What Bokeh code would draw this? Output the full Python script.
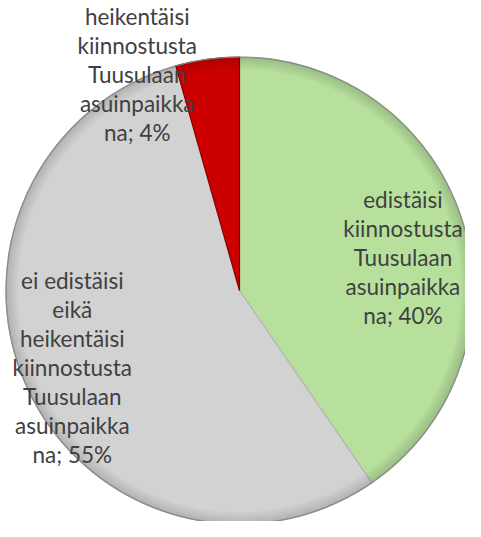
import numpy as np
from bokeh.plotting import figure
from bokeh.models import Range1d, ColumnDataSource
from bokeh.core.properties import value
from bokeh.embed import file_html
from bokeh.resources import INLINE

# ---- data ----
categories = [
    "edistäisi kiinnostusta Tuusulaan asuinpaikkana",
    "ei edistäisi eikä heikentäisi kiinnostusta Tuusulaan asuinpaikkana",
    "heikentäisi kiinnostusta Tuusulaan asuinpaikkana",
]
shares = [40.4, 55.2, 4.4]
label_lines = [
    ["edistäisi", "kiinnostusta", "Tuusulaan", "asuinpaikka"],
    ["ei edistäisi", "eikä", "heikentäisi", "kiinnostusta", "Tuusulaan", "asuinpaikka"],
    ["heikentäisi", "kiinnostusta", "Tuusulaan", "asuinpaikka"],
]

# ---- style / layout ----
colors = ["#b7e09d", "#d2d2d2", "#cc0000"]
edge_colors = ["#a3cf88", "#b4b4b4", "#8a0000"]
label_offsets = [(0.70, 0.14), (-0.716, -0.33), (-0.438, 0.925)]  # fractions of radius
W, H = 465, 521
cx, cy, R = 239.0, 231.0, 233.5
line_h = 29.0
font = "Lato"
font_size = "22.5px"

p = figure(width=W, height=H, output_backend="svg", toolbar_location=None,
           x_range=Range1d(0, W), y_range=Range1d(0, H), min_border=0)
p.axis.visible = False
p.grid.visible = False
p.outline_line_color = None
p.background_fill_color = "white"
p.border_fill_color = "white"

total = sum(shares)
fr = np.array(shares) / total
cum = np.concatenate([[0.0], np.cumsum(fr)])
start = np.pi / 2 - cum[:-1] * 2 * np.pi
end = np.pi / 2 - cum[1:] * 2 * np.pi

src = ColumnDataSource(dict(start=start, end=end, color=colors, edge=edge_colors,
                            cat=categories))
p.wedge(x=cx, y=cy, radius=R, start_angle="start", end_angle="end", direction="clock",
        fill_color="color", line_color="edge", line_width=1.2, source=src)

# rim shading (bevel-like darkening near the edge)
for k in range(6):
    p.annulus(x=cx, y=cy, inner_radius=R - 2.0 * (k + 1), outer_radius=R,
              fill_color="black", fill_alpha=0.022, line_color=None)
p.circle(x=cx, y=cy, radius=R, fill_color=None, line_color="#8a8a8a", line_width=1.3,
         line_alpha=0.9)

# labels
xs, ys, ts = [], [], []
for lines, s, (ox, oy) in zip(label_lines, shares, label_offsets):
    full = lines + [f"na; {round(s)}%"]
    n = len(full)
    bx, by = cx + ox * R, cy + oy * R
    for i, t in enumerate(full):
        xs.append(bx)
        ys.append(by + ((n - 1) / 2 - i) * line_h)
        ts.append(t)
p.text(x=xs, y=ys, text=ts, text_font=value(font), text_font_size=font_size,
       text_color="#404040", text_align="center", text_baseline="middle")

open("out.html", "w").write(file_html(p, INLINE))
